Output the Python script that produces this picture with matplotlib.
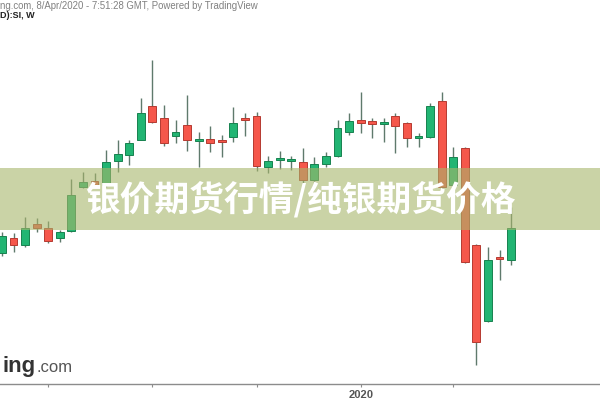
import matplotlib
matplotlib.use('Agg')
import matplotlib.pyplot as plt
from matplotlib.patches import Rectangle
import numpy as np
import pandas as pd

# weekly silver candles (XAG), Jun 2019 - Apr 2020
weeks = pd.date_range('2019-06-03', periods=45, freq='7D')
opens = [14.59, 14.98, 14.80, 15.35, 15.24, 14.98, 15.16, 16.32, 16.48, 16.37,
         17.00, 17.16, 17.55, 18.45, 18.13, 17.66, 17.95, 17.53, 17.58, 17.53,
         17.63, 18.13, 18.18, 16.85, 17.03, 17.00, 16.98, 16.50, 16.92, 17.13,
         17.76, 18.08, 18.05, 17.97, 18.18, 18.00, 17.61, 17.63, 18.58, 16.37,
         17.34, 14.80, 12.80, 14.48, 14.40]
highs = [15.14, 15.11, 15.53, 15.51, 15.43, 15.19, 16.53, 16.71, 16.69, 17.29,
         17.55, 17.55, 18.66, 19.65, 18.47, 18.08, 18.74, 17.76, 17.92, 17.69,
         18.42, 18.26, 18.29, 17.13, 17.27, 17.13, 17.34, 17.11, 17.24, 18.08,
         18.26, 18.81, 18.13, 18.13, 18.26, 18.03, 17.74, 18.53, 18.81, 17.37,
         17.37, 14.82, 14.74, 14.67, 15.79]
lows = [14.51, 14.61, 14.74, 15.14, 14.85, 14.88, 15.14, 16.29, 16.32, 16.32,
        16.71, 16.90, 17.55, 18.00, 17.40, 17.47, 17.27, 16.85, 17.24, 17.11,
        17.50, 17.66, 16.74, 16.69, 16.79, 16.77, 16.42, 16.42, 16.85, 17.11,
        17.69, 17.74, 17.61, 17.50, 17.21, 17.37, 17.37, 17.61, 16.29, 16.35,
        14.32, 11.65, 12.77, 13.88, 14.27]
closes = [15.03, 14.80, 15.24, 15.24, 14.90, 15.14, 16.11, 16.45, 16.35, 16.98,
          17.19, 17.47, 18.26, 18.03, 17.47, 17.76, 17.55, 17.55, 17.47, 17.50,
          18.00, 18.08, 16.87, 17.00, 17.05, 17.03, 16.50, 16.92, 17.13, 17.87,
          18.05, 18.00, 17.97, 18.00, 17.92, 17.61, 17.63, 18.45, 16.32, 17.11,
          14.35, 12.25, 14.40, 14.43, 15.24]

tick_months = ['2019-07', '2019-09', '2019-11', '2020-01', '2020-03']
tick_labels = ['', '', '', '2020', '']

title = '银价期货行情/纯银期货价格'

up_col, up_edge = '#22b573', '#17824f'
dn_col, dn_edge = '#f5574b', '#b53a31'
wick_col = '#5f7a6c'

fig = plt.figure(figsize=(6, 4), dpi=100)
ax = fig.add_axes([0, 16 / 400, 1, 384 / 400])

x = np.arange(len(weeks))
o = np.array(opens)
h = np.array(highs)
l = np.array(lows)
c = np.array(closes)
up = c >= o

ax.vlines(x, l, h, color=wick_col, lw=1.0, zorder=1)
body_lo = np.minimum(o, c)
body_h = np.maximum(np.abs(c - o), 0.045)
ax.bar(x[up], body_h[up], bottom=body_lo[up], width=0.68,
       color=up_col, edgecolor=up_edge, lw=0.7, zorder=2)
ax.bar(x[~up], body_h[~up], bottom=body_lo[~up], width=0.68,
       color=dn_col, edgecolor=dn_edge, lw=0.7, zorder=2)

ax.set_xlim(-0.17, 51.68)
ax.set_ylim(11.146, 21.23)

# ticks sit on the first weekly candle of each month
tick_pos = [int(np.argmax(weeks.strftime('%Y-%m') == m)) for m in tick_months]
ax.set_xticks(tick_pos)
ax.set_xticklabels(tick_labels, fontsize=8, fontweight='bold', color='#555555',
                   family='Liberation Sans')
ax.tick_params(axis='x', direction='out', length=2.5, color='#8c8c8c', pad=2)
ax.set_yticks([])
for side in ['top', 'left', 'right']:
    ax.spines[side].set_visible(False)
ax.spines['bottom'].set_color('#8c8c8c')
ax.spines['bottom'].set_linewidth(1.0)

# banner across the middle
fig.patches.append(Rectangle((0, 1 - 230 / 400), 1, 62 / 400, transform=fig.transFigure,
                             facecolor='#a8b66b', alpha=0.6, edgecolor='none', zorder=5))
fig.text(0.502, 1 - 199 / 400, title, ha='center', va='center', fontsize=25,
         fontweight='bold', color='white', family=['Noto Sans CJK SC', 'DejaVu Sans'],
         zorder=6)

# header / watermark text
fig.text(0, 1 - 6 / 400, 'ng.com, 8/Apr/2020 - 7:51:28 GMT, Powered by TradingView',
         ha='left', va='center', fontsize=6.9, color='#808080', family='Liberation Sans')
fig.text(0, 1 - 16 / 400, 'D):SI, W', ha='left', va='center', fontsize=6.5,
         fontweight='bold', color='#222222', family='Liberation Sans')
fig.text(3 / 600, 1 - 372 / 400, 'ing', ha='left', va='baseline', fontsize=16,
         fontweight='bold', color='#333333', family='Liberation Sans')
fig.text(36 / 600, 1 - 372 / 400, '.com', ha='left', va='baseline', fontsize=12,
         color='#555555', family='Liberation Sans')

fig.savefig('out.png', dpi=100)
